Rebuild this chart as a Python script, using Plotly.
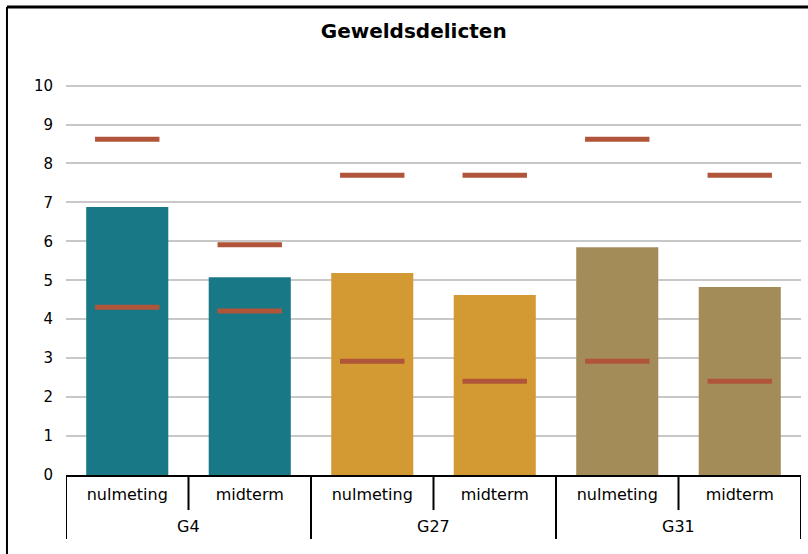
import plotly.graph_objects as go

groepen = ["G4", "G4", "G27", "G27", "G31", "G31"]
metingen = ["nulmeting", "midterm", "nulmeting", "midterm", "nulmeting", "midterm"]
scores = [6.88, 5.08, 5.19, 4.62, 5.85, 4.83]
bovengrens = [8.62, 5.91, 7.70, 7.70, 8.62, 7.70]
ondergrens = [4.31, 4.21, 2.92, 2.41, 2.92, 2.41]
kleuren = ["#197886", "#197886", "#D39A33", "#D39A33", "#A38C58", "#A38C58"]

# unieke categorie per staaf, label = meting
x = [g + " " + m for g, m in zip(groepen, metingen)]
fnt = "DejaVu Sans, Arial, sans-serif"

fig = go.Figure()
fig.add_trace(go.Bar(x=x, y=scores, marker=dict(color=kleuren, line=dict(width=0)),
                     name="score"))
for naam, vals in [("bovengrens", bovengrens), ("ondergrens", ondergrens)]:
    fig.add_trace(go.Scatter(x=x, y=vals, mode="markers", name=naam,
                             marker=dict(symbol="line-ew", size=46,
                                         line=dict(width=5, color="#B0553A"))))

# kader
shapes = [
    dict(type="line", xref="paper", yref="paper", x0=-0.0803, x1=-0.0803, y0=1.1556, y1=-0.25,
         line=dict(color="black", width=2)),
    dict(type="line", xref="paper", yref="paper", x0=-0.0803, x1=1.03, y0=1.1556, y1=1.1556,
         line=dict(color="black", width=3)),
]
# scheidingslijnen onder de as
annotations = []
for i in range(len(x) + 1):
    nieuwe_groep = i == 0 or i == len(x) or groepen[i] != groepen[i - 1]
    shapes.append(dict(type="line", xref="x", yref="paper", x0=i - 0.5, x1=i - 0.5,
                       y0=0, y1=-0.158 if nieuwe_groep else -0.0864,
                       line=dict(color="black", width=2)))
for g in dict.fromkeys(groepen):
    idx = [i for i, gg in enumerate(groepen) if gg == g]
    annotations.append(dict(text=g, x=sum(idx) / len(idx), xref="x", y=-0.128, yref="paper",
                            yanchor="middle", showarrow=False, font=dict(size=16)))

fig.update_layout(
    width=808, height=554,
    margin=dict(l=66, r=7, t=70, b=79),
    paper_bgcolor="white", plot_bgcolor="white",
    showlegend=False,
    bargap=0.33,
    font=dict(family=fnt, size=15, color="black"),
    title=dict(text="<b>Geweldsdelicten</b>", x=0.512, xref="container", xanchor="center",
               y=0.944, yref="container", yanchor="middle",
               font=dict(family=fnt, size=20, color="black")),
    shapes=shapes,
    annotations=annotations,
)
fig.update_xaxes(type="category", range=[-0.5, len(x) - 0.5], tickvals=x, ticktext=metingen,
                 showline=True, linecolor="black", linewidth=2, ticks="", showgrid=False,
                 ticklabelstandoff=4, tickfont=dict(size=16), automargin=False)
fig.update_yaxes(range=[0, 10.4], tickvals=list(range(0, 11)), showgrid=True,
                 gridcolor="#C8C8C8", gridwidth=2, zeroline=False, showline=False,
                 ticklabelstandoff=12, tickfont=dict(size=15), automargin=False)

fig.write_html("out.html", config={"displayModeBar": False},
               post_script="document.body.style.margin='0';")
